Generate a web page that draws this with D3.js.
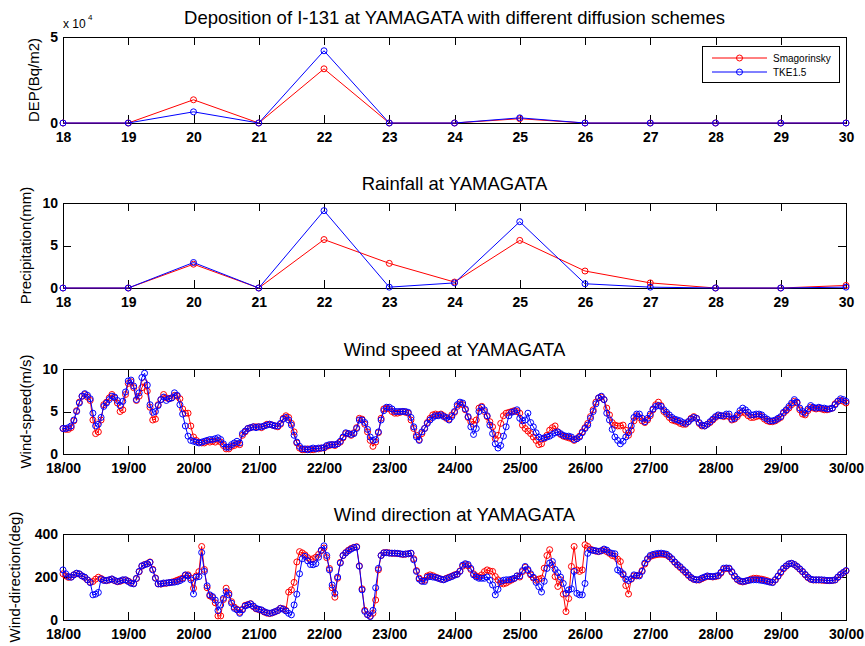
<!DOCTYPE html>
<html>
<head>
<meta charset="utf-8">
<script src="https://cdn.jsdelivr.net/npm/d3@7"></script>
<style>
	body { margin: 0; background: #fff; }
	svg text { font-family: "Liberation Sans", Arial, Helvetica, sans-serif; fill: #000; }
	.axis path, .axis line { stroke: #000; shape-rendering: crispEdges; }
	.axis text { font-size: 14px; font-weight: bold; }
	.title { font-size: 18.5px; }
	.ylabel { font-size: 15px; }
	.legend text { font-size: 10px; }
</style>
</head>
<body>
<div id="chart"></div>
<script>
// daily values (18..30)
const days = [18, 19, 20, 21, 22, 23, 24, 25, 26, 27, 28, 29, 30];
const depSmag = [0, 0, 13500, 0, 31500, 0, 0, 2500, 0, 0, 0, 0, 0];
const depTke = [0, 0, 6500, 0, 42000, 0, 0, 3000, 0, 0, 0, 0, 0];
const precipSmag = [0, 0, 2.8, 0, 5.7, 2.9, 0.7, 5.6, 2.0, 0.6, 0, 0, 0.3];
const precipTke = [0, 0, 3.0, 0, 9.1, 0.1, 0.6, 7.8, 0.5, 0.1, 0, 0, 0.1];

// hourly values, 18/00 .. 30/00 (one row per day)
const speedSmag = [
	3.0, 2.9, 2.9, 3.1, 3.9, 5.1, 6.1, 6.8, 7.0, 6.7, 6.3, 4.0, 2.4, 2.6, 4.0, 5.8, 6.1, 6.6, 7.0, 6.6, 6.0, 5.0, 5.2, 7.0,
	8.3, 8.5, 7.8, 6.3, 6.8, 7.8, 8.4, 7.4, 5.5, 4.0, 4.1, 5.8, 6.4, 7.0, 6.6, 6.5, 6.6, 6.9, 6.8, 6.5, 5.3, 4.8, 4.8, 3.3,
	2.0, 1.6, 1.4, 1.3, 1.3, 1.5, 1.4, 1.5, 1.4, 1.6, 1.4, 1.0, 0.6, 0.6, 0.9, 1.0, 1.2, 1.1, 2.2, 2.6, 3.0, 3.1, 3.2, 3.2,
	3.2, 3.1, 3.3, 3.5, 3.5, 3.4, 3.3, 3.2, 3.5, 4.2, 4.5, 4.3, 3.6, 2.6, 1.3, 0.7, 0.5, 0.5, 0.6, 0.5, 0.5, 0.6, 0.6, 0.7,
	0.7, 0.9, 1.0, 1.1, 1.0, 1.2, 1.4, 1.9, 2.4, 2.4, 2.2, 2.5, 3.1, 4.2, 4.1, 3.5, 2.6, 1.6, 0.9, 1.4, 2.5, 4.2, 5.3, 5.4,
	5.3, 5.0, 4.8, 4.8, 4.9, 5.0, 4.9, 4.8, 4.0, 3.0, 2.2, 1.7, 2.4, 3.0, 3.7, 4.2, 4.6, 4.7, 4.6, 4.7, 4.5, 4.2, 4.1, 4.6,
	4.9, 5.6, 5.9, 5.8, 5.2, 4.3, 3.8, 3.5, 4.0, 5.4, 5.6, 5.0, 4.4, 3.8, 3.2, 1.8, 2.2, 3.6, 4.5, 4.8, 4.9, 5.0, 5.1, 5.0,
	4.8, 3.4, 3.0, 2.7, 2.4, 2.0, 1.6, 1.1, 1.2, 1.8, 2.2, 2.8, 3.1, 3.3, 2.6, 2.3, 2.1, 2.0, 1.9, 1.8, 1.6, 1.8, 2.1, 2.6,
	3.1, 3.6, 4.4, 5.2, 6.1, 6.6, 6.7, 6.4, 5.4, 4.6, 3.7, 3.4, 3.3, 3.3, 3.4, 2.8, 2.2, 2.8, 3.9, 4.5, 4.3, 3.9, 3.7, 4.0,
	4.5, 5.2, 5.8, 6.1, 5.7, 5.0, 4.7, 4.3, 4.0, 3.9, 3.8, 3.6, 3.5, 3.5, 3.8, 4.2, 4.4, 4.2, 3.6, 3.3, 3.3, 3.5, 3.7, 4.0,
	4.3, 4.5, 4.5, 4.4, 4.5, 4.4, 4.0, 4.1, 4.4, 4.8, 5.0, 4.8, 4.5, 4.3, 4.3, 4.4, 4.5, 4.4, 4.1, 3.9, 3.8, 3.8, 3.9, 4.1,
	4.3, 4.8, 5.1, 5.4, 5.8, 6.2, 6.0, 5.2, 4.7, 4.6, 5.1, 5.5, 5.4, 5.3, 5.4, 5.3, 5.2, 5.2, 5.3, 5.4, 5.9, 6.2, 6.3, 6.2,
	6.0
];
const speedTke = [
	3.0, 3.0, 3.1, 3.3, 4.0, 5.0, 6.0, 6.8, 7.1, 6.9, 6.5, 4.8, 3.3, 3.5, 4.3, 5.6, 6.0, 6.4, 6.8, 6.7, 6.3, 5.7, 6.2, 7.3,
	8.6, 8.7, 8.0, 6.4, 7.2, 9.0, 9.5, 8.1, 5.8, 4.9, 5.0, 5.7, 6.4, 6.7, 6.3, 6.5, 6.6, 7.2, 6.9, 5.8, 4.7, 3.3, 2.1, 1.6,
	1.5, 1.4, 1.3, 1.4, 1.5, 1.6, 1.7, 1.7, 1.8, 1.9, 1.7, 1.2, 0.8, 0.8, 1.1, 1.3, 1.5, 1.3, 2.4, 2.7, 3.0, 3.1, 3.2, 3.1,
	3.2, 3.2, 3.3, 3.4, 3.5, 3.4, 3.3, 3.3, 3.6, 4.1, 4.3, 4.0, 3.4, 2.2, 1.4, 0.9, 0.6, 0.6, 0.5, 0.6, 0.7, 0.6, 0.7, 0.7,
	0.75, 1.0, 1.1, 1.1, 1.1, 1.2, 1.5, 2.0, 2.5, 2.4, 2.3, 2.4, 3.0, 4.0, 4.0, 3.7, 2.9, 2.0, 1.6, 1.7, 2.6, 4.0, 5.1, 5.5,
	5.5, 5.3, 5.0, 5.0, 5.0, 5.0, 5.0, 4.9, 4.3, 3.2, 2.0, 1.6, 2.6, 3.0, 3.6, 4.0, 4.3, 4.5, 4.5, 4.6, 4.4, 4.3, 4.0, 4.4,
	5.0, 5.8, 6.1, 6.0, 5.3, 4.4, 3.2, 2.3, 3.0, 5.0, 5.5, 5.2, 4.5, 3.4, 2.4, 1.2, 0.7, 1.0, 2.1, 3.2, 4.5, 4.9, 5.0, 5.2,
	4.2, 3.9, 4.0, 4.8, 3.7, 3.2, 2.5, 2.0, 1.8, 1.9, 2.0, 2.1, 2.3, 2.5, 2.6, 2.4, 2.2, 2.1, 2.1, 2.0, 1.7, 1.8, 2.0, 2.5,
	3.0, 3.4, 4.2, 5.0, 5.9, 6.6, 6.8, 6.4, 4.8, 4.0, 2.9, 2.0, 1.6, 1.2, 1.5, 2.0, 2.5, 3.3, 4.3, 4.7, 4.7, 4.2, 3.8, 4.2,
	4.7, 5.3, 5.6, 5.7, 5.6, 5.2, 4.9, 4.6, 4.3, 4.1, 4.0, 3.9, 3.7, 3.6, 3.8, 4.1, 4.3, 4.2, 3.7, 3.4, 3.3, 3.5, 3.8, 4.1,
	4.4, 4.6, 4.5, 4.5, 4.7, 4.7, 4.1, 4.2, 4.6, 5.1, 5.4, 5.2, 4.9, 4.6, 4.6, 4.7, 4.7, 4.6, 4.3, 4.1, 3.9, 3.9, 4.0, 4.2,
	4.4, 4.9, 5.2, 5.6, 6.0, 6.4, 6.1, 5.4, 5.0, 4.8, 5.3, 5.7, 5.5, 5.4, 5.5, 5.4, 5.4, 5.3, 5.3, 5.4, 5.8, 6.2, 6.5, 6.4,
	6.2
];
const dirSmag = [
	215, 205, 198, 200, 210, 216, 213, 205, 198, 186, 176, 179, 190, 199, 193, 186, 183, 186, 190, 183, 178, 180, 185, 186,
	181, 173, 170, 192, 224, 250, 258, 262, 270, 236, 196, 168, 167, 170, 171, 173, 176, 180, 185, 190, 195, 208, 210, 195,
	148, 205, 225, 342, 235, 150, 112, 105, 80, 19, 19, 95, 148, 125, 85, 60, 50, 36, 50, 68, 72, 76, 62, 52,
	48, 45, 37, 32, 30, 33, 38, 44, 55, 52, 45, 130, 140, 175, 270, 318, 312, 303, 290, 280, 285, 292, 305, 322,
	335, 290, 240, 150, 106, 194, 268, 300, 314, 325, 333, 338, 341, 252, 145, 45, 25, 18, 31, 93, 233, 300, 313, 314,
	312, 310, 310, 309, 307, 305, 306, 308, 310, 285, 230, 195, 182, 185, 205, 210, 206, 200, 195, 190, 188, 194, 199, 204,
	210, 214, 228, 250, 258, 252, 235, 215, 205, 200, 210, 225, 233, 228, 226, 202, 187, 171, 168, 172, 180, 186, 193, 205,
	200, 225, 245, 230, 210, 195, 185, 190, 194, 241, 300, 327, 257, 202, 156, 187, 120, 39, 100, 249, 342, 233, 226, 233,
	350, 342, 330, 324, 320, 318, 322, 326, 318, 310, 300, 296, 283, 272, 210, 160, 121, 190, 205, 205, 210, 230, 260, 282,
	295, 300, 303, 305, 306, 305, 302, 294, 282, 268, 255, 244, 232, 220, 207, 196, 189, 186, 186, 192, 198, 203, 202, 200,
	202, 205, 218, 236, 240, 238, 222, 202, 188, 180, 177, 180, 184, 190, 194, 194, 192, 190, 187, 183, 178, 176, 186, 203,
	220, 238, 250, 260, 263, 258, 248, 236, 224, 210, 197, 189, 186, 186, 186, 185, 184, 183, 183, 184, 186, 198, 210, 220,
	228
];
const dirTke = [
	233, 215, 202, 199, 210, 218, 215, 205, 199, 187, 174, 117, 120, 128, 191, 184, 184, 187, 191, 184, 179, 182, 187, 187,
	179, 171, 168, 194, 226, 252, 257, 261, 268, 233, 194, 168, 168, 172, 172, 174, 175, 176, 178, 183, 190, 210, 205, 187,
	121, 199, 202, 314, 226, 159, 117, 109, 93, 44, 70, 101, 132, 117, 78, 54, 47, 31, 47, 65, 70, 75, 65, 54,
	50, 47, 39, 34, 31, 34, 39, 44, 54, 50, 42, 31, 24, 70, 120, 215, 285, 296, 275, 258, 257, 262, 292, 325,
	345, 300, 233, 163, 124, 200, 265, 300, 312, 322, 330, 337, 339, 250, 140, 40, 25, 16, 45, 150, 240, 300, 312, 313,
	311, 311, 311, 310, 308, 306, 307, 308, 311, 280, 226, 190, 180, 179, 199, 202, 200, 198, 194, 190, 187, 192, 197, 202,
	208, 212, 226, 255, 262, 258, 240, 210, 200, 194, 194, 194, 200, 185, 163, 117, 143, 179, 185, 187, 187, 190, 194, 205,
	205, 230, 249, 235, 215, 199, 175, 155, 130, 180, 240, 265, 272, 235, 220, 200, 170, 124, 140, 145, 226, 124, 117, 117,
	170, 310, 326, 324, 322, 319, 322, 330, 325, 314, 310, 308, 233, 226, 215, 190, 184, 192, 210, 207, 205, 226, 265, 285,
	300, 305, 308, 310, 311, 309, 306, 296, 285, 270, 258, 248, 235, 224, 210, 198, 190, 187, 188, 195, 200, 205, 203, 202,
	204, 207, 222, 241, 242, 241, 225, 205, 190, 182, 179, 181, 184, 186, 187, 187, 186, 184, 182, 179, 176, 174, 188, 205,
	224, 241, 252, 261, 264, 258, 249, 238, 226, 212, 199, 190, 187, 187, 187, 187, 186, 184, 184, 184, 187, 200, 212, 221,
	230
];

const seriesNames = ["Smagorinsky", "TKE1.5"];
const seriesColors = ["#ff0000", "#0000ff"];

const hourly = speedSmag.map((d, i) => 18 + i / 24);

// Panel: one MATLAB-style subplot
class Panel {
	constructor(svg, cfg) {
		this.svg = svg;
		this.cfg = cfg;
		this.initVis();
	}

	initVis() {
		let vis = this;
		let c = vis.cfg;

		vis.margin = {left: 63, right: 846};
		vis.g = vis.svg.append("g");

		vis.x = d3.scaleLinear().domain([18, 30]).range([vis.margin.left, vis.margin.right]);
		vis.y = d3.scaleLinear().domain(c.yDomain).range([c.bottom, c.top]);

		// axes, ticks pointing inward on all four sides
		vis.g.append("g")
			.attr("class", "axis")
			.attr("transform", "translate(0," + c.bottom + ")")
			.call(d3.axisBottom(vis.x).tickValues(days).tickSizeInner(-8).tickSizeOuter(0)
				.tickPadding(9.5).tickFormat(c.xFormat));
		vis.g.append("g")
			.attr("class", "axis")
			.attr("transform", "translate(0," + c.top + ")")
			.call(d3.axisTop(vis.x).tickValues(days).tickSizeInner(-8).tickSizeOuter(0).tickFormat(""));
		vis.g.append("g")
			.attr("class", "axis")
			.attr("transform", "translate(" + vis.margin.left + ",0)")
			.call(d3.axisLeft(vis.y).tickValues(c.yTicks).tickSizeInner(-8).tickSizeOuter(0)
				.tickPadding(5).tickFormat(c.yFormat));
		vis.g.append("g")
			.attr("class", "axis")
			.attr("transform", "translate(" + vis.margin.right + ",0)")
			.call(d3.axisRight(vis.y).tickValues(c.yTicks).tickSizeInner(-8).tickSizeOuter(0).tickFormat(""));

		// title and y label
		vis.g.append("text")
			.attr("class", "title")
			.attr("x", (vis.margin.left + vis.margin.right) / 2)
			.attr("y", c.top - 13)
			.attr("text-anchor", "middle")
			.text(c.title);
		vis.g.append("text")
			.attr("class", "ylabel")
			.attr("transform", "translate(" + c.labelX + "," + (c.top + c.bottom) / 2 + ") rotate(-90)")
			.attr("text-anchor", "middle")
			.text(c.ylabel);

		vis.updateVis();
	}

	updateVis() {
		let vis = this;
		let c = vis.cfg;

		let line = d3.line()
			.x(d => vis.x(d[0]))
			.y(d => vis.y(d[1]));

		c.series.forEach(function (values, index) {
			let pts = values.map((v, i) => [c.xs[i], v]);
			let color = seriesColors[index];
			vis.g.append("path")
				.datum(pts)
				.attr("fill", "none")
				.attr("stroke", color)
				.attr("stroke-width", 1)
				.attr("d", line);
			vis.g.append("g")
				.selectAll("circle")
				.data(pts)
				.enter()
				.append("circle")
				.attr("cx", d => vis.x(d[0]))
				.attr("cy", d => vis.y(d[1]))
				.attr("r", 3)
				.attr("fill", "none")
				.attr("stroke", color)
				.attr("stroke-width", 1);
		});
	}
}

let svg = d3.select("#chart").append("svg")
	.attr("width", 865)
	.attr("height", 646);

let dayFormat = d => d;
let hourFormat = d => d + "/00";

new Panel(svg, {
	top: 37, bottom: 123, yDomain: [0, 50000], yTicks: [0, 50000], yFormat: d => d / 10000,
	xFormat: dayFormat, xs: days, series: [depSmag, depTke], labelX: 39,
	title: "Deposition of I-131 at YAMAGATA with different diffusion schemes", ylabel: "DEP(Bq/m2)"
});
new Panel(svg, {
	top: 203, bottom: 288, yDomain: [0, 10], yTicks: [0, 5, 10], yFormat: d => d,
	xFormat: dayFormat, xs: days, series: [precipSmag, precipTke], labelX: 31,
	title: "Rainfall at YAMAGATA", ylabel: "Precipitation(mm)"
});
new Panel(svg, {
	top: 369, bottom: 454, yDomain: [0, 10], yTicks: [0, 5, 10], yFormat: d => d,
	xFormat: hourFormat, xs: hourly, series: [speedSmag, speedTke], labelX: 31,
	title: "Wind speed at YAMAGATA", ylabel: "Wind-speed(m/s)"
});
new Panel(svg, {
	top: 534, bottom: 620, yDomain: [0, 400], yTicks: [0, 200, 400], yFormat: d => d,
	xFormat: hourFormat, xs: hourly, series: [dirSmag, dirTke], labelX: 20,
	title: "Wind direction at YAMAGATA", ylabel: "Wind-direction(deg)"
});

// exponent label of the first panel
svg.append("text")
	.attr("x", 63)
	.attr("y", 28)
	.style("font-size", "12px")
	.text("x 10");
svg.append("text")
	.attr("x", 88)
	.attr("y", 20)
	.style("font-size", "8px")
	.text("4");

// legend
let legend = svg.append("g").attr("class", "legend");
legend.append("rect")
	.attr("x", 702)
	.attr("y", 46)
	.attr("width", 137)
	.attr("height", 36)
	.attr("fill", "#fff")
	.attr("stroke", "#000")
	.attr("shape-rendering", "crispEdges");
seriesNames.forEach(function (name, i) {
	let ly = 58 + i * 14;
	legend.append("line")
		.attr("x1", 712).attr("x2", 767)
		.attr("y1", ly).attr("y2", ly)
		.attr("stroke", seriesColors[i]);
	legend.append("circle")
		.attr("cx", 739.5).attr("cy", ly).attr("r", 3)
		.attr("fill", "none")
		.attr("stroke", seriesColors[i]);
	legend.append("text")
		.attr("x", 773)
		.attr("y", ly)
		.attr("dy", "0.35em")
		.text(name);
});
</script>
</body>
</html>
